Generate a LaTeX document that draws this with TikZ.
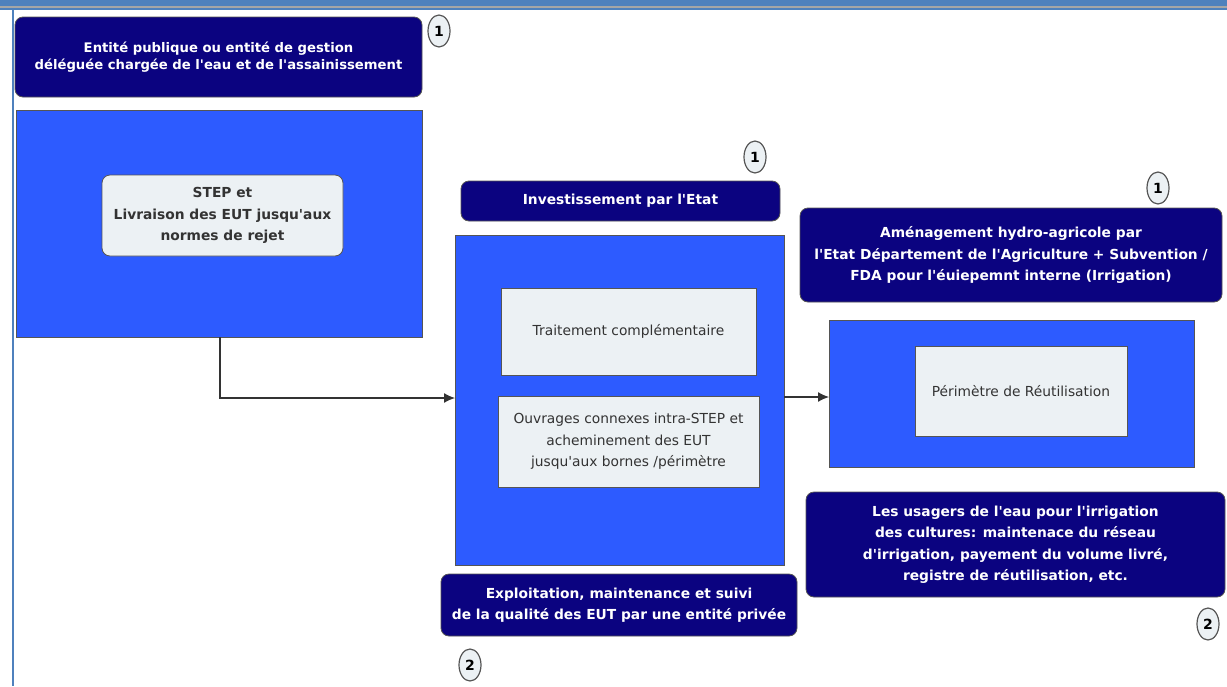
\documentclass[tikz,border=0pt]{standalone}
\usepackage{fontspec}
\setmainfont{DejaVu Sans}
\usetikzlibrary{arrows.meta,shapes.geometric}
\definecolor{framebar}{HTML}{4F81BD}
\definecolor{navy}{HTML}{0B0380}
\definecolor{brightblue}{HTML}{2D5BFF}
\definecolor{paleface}{HTML}{ECF1F4}
\definecolor{edgegray}{HTML}{555555}
\definecolor{inktext}{HTML}{333333}
% straight apostrophe
\newcommand{\ap}{\textquotesingle}
\tikzset{
  navybox/.style={draw=edgegray, line width=0.8pt, fill=navy, rounded corners=8pt,
    text=white, font=\fontsize{13.8}{21.5}\selectfont\bfseries, align=center,
    inner sep=0pt, outer sep=0pt},
  bluebox/.style={draw=edgegray, line width=0.8pt, fill=brightblue,
    inner sep=0pt, outer sep=0pt},
  palebox/.style={draw=edgegray, line width=0.8pt, fill=paleface, text=inktext,
    font=\fontsize{13.8}{21.5}\selectfont, align=center, inner sep=0pt, outer sep=0pt},
  badge/.style={ellipse, draw=edgegray, line width=1.2pt, fill=paleface,
    minimum width=22pt, minimum height=32pt, inner sep=0pt,
    font=\fontsize{14}{16}\selectfont\bfseries, text=black},
  flow/.style={draw=inktext, line width=1.2pt, -{Latex[length=11pt,width=10pt]}}
}
\begin{document}
\begin{tikzpicture}[x=1pt,y=-1pt]
\useasboundingbox (0,0) rectangle (1227,686);
% window frame
\fill[framebar] (0,0) rectangle (1227,10);
\fill[gray!70] (0,6) rectangle (1227,8);
\fill[framebar] (11.5,10) rectangle (13.5,686);

% left column
\node[navybox, font=\fontsize{13.2}{17}\selectfont\bfseries,
  minimum width=407pt, minimum height=80pt] (navyA) at (218.5,57)
  {Entité publique ou entité de gestion\\déléguée chargée de l\ap eau et de l\ap assainissement};
\node[badge] (c1a) at (439,31) {1};
\node[bluebox, minimum width=406pt, minimum height=227pt] (blueA) at (219,223.5) {};
\node[palebox, rounded corners=8pt, font=\fontsize{13.8}{21.5}\selectfont\bfseries,
  minimum width=241pt, minimum height=81pt] (stepA) at (222.5,215.5)
  {STEP et\\Livraison des EUT jusqu\ap aux\\normes de rejet};

% middle column
\node[badge] (c1b) at (755,157) {1};
\node[navybox, minimum width=319pt, minimum height=40pt] (navyB) at (620.5,201)
  {Investissement par l\ap Etat};
\node[bluebox, minimum width=329pt, minimum height=330pt] (blueB) at (619.5,400) {};
\node[palebox, minimum width=255pt, minimum height=87pt] (treat) at (628.5,331.5)
  {Traitement complémentaire};
\node[palebox, minimum width=261pt, minimum height=91pt] (works) at (628.5,441.5)
  {Ouvrages connexes intra-STEP et\\acheminement des EUT\\jusqu\ap aux bornes /périmètre};
\node[navybox, minimum width=356pt, minimum height=62pt] (navyB2) at (619,605)
  {Exploitation, maintenance et suivi\\de la qualité des EUT par une entité privée};
\node[badge] (c2b) at (470,665) {2};

% right column
\node[badge] (c1c) at (1158,188) {1};
\node[navybox, minimum width=422pt, minimum height=94pt] (navyC) at (1011,255)
  {Aménagement hydro-agricole par\\l\ap Etat Département de l\ap Agriculture + Subvention /\\FDA pour l\ap éuiepemnt interne (Irrigation)};
\node[bluebox, minimum width=365pt, minimum height=147pt] (blueC) at (1011.5,393.5) {};
\node[palebox, minimum width=212pt, minimum height=90pt] (perim) at (1021,391)
  {Périmètre de Réutilisation};
\node[navybox, minimum width=419pt, minimum height=105pt] (navyC2) at (1015.5,544.5)
  {Les usagers de l\ap eau pour l\ap irrigation\\des cultures: maintenace du réseau\\d\ap irrigation, payement du volume livré,\\registre de réutilisation, etc.};
\node[badge] (c2c) at (1208,624) {2};

% connectors
\coordinate (jointAB) at (220,398);
\draw[flow] (blueA.south -| jointAB) |- (blueB.west |- jointAB);
\coordinate (jointBC) at (0,397);
\draw[flow] (blueB.east |- jointBC) -- (blueC.west |- jointBC);
\end{tikzpicture}
\end{document}
